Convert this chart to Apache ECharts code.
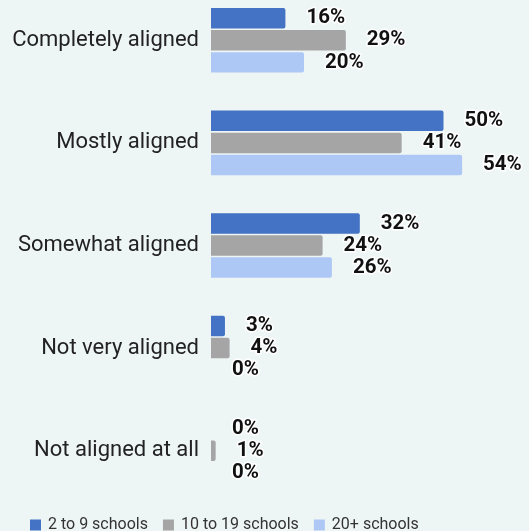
<!DOCTYPE html>
<html>
<head>
<meta charset="utf-8">
<script src="https://cdn.jsdelivr.net/npm/echarts@6/dist/echarts.min.js"></script>
<style>
  html, body { margin: 0; padding: 0; background: #eef6f5; }
  #chart { width: 529px; height: 531px; }
</style>
</head>
<body>
<div id="chart"></div>
<script>
// Alignment categories (top to bottom)
const categories = [
  'Completely aligned',
  'Mostly aligned',
  'Somewhat aligned',
  'Not very aligned',
  'Not aligned at all'
];
// Series names
const seriesNames = ['2 to 9 schools', '10 to 19 schools', '20+ schools'];
// Percent of respondents per category
const small = [16, 50, 32, 3, 0];
const medium = [29, 41, 24, 4, 1];
const large = [20, 54, 26, 0, 0];

const colors = ['#4472c4', '#a5a5a5', '#aec8f5'];
const values = [small, medium, large];

const chart = echarts.init(document.getElementById('chart'), null, { renderer: 'canvas' });

const series = seriesNames.map((name, i) => ({
  name: name,
  type: 'bar',
  data: values[i],
  barGap: '8%',
  barCategoryGap: '37%',
  itemStyle: { color: colors[i], borderRadius: [0, 2, 2, 0] },
  label: {
    show: true,
    position: 'right',
    distance: 21,
    formatter: '{c}%',
    fontFamily: 'Roboto',
    fontWeight: 'bold',
    fontSize: 20.5,
    color: '#111',
    textBorderColor: '#ffffff',
    textBorderWidth: 3
  }
}));

chart.setOption({
  backgroundColor: '#eef6f5',
  animation: false,
  grid: { left: 211, right: 39, top: -11, bottom: 29, outerBoundsMode: 'none' },
  legend: {
    data: seriesNames,
    left: 30,
    top: 517,
    padding: 0,
    itemWidth: 11,
    itemHeight: 11,
    itemGap: 15,
    icon: 'rect',
    textStyle: { fontFamily: 'Roboto', fontSize: 16, color: '#333', padding: [0, 0, 0, 2] }
  },
  xAxis: {
    type: 'value',
    min: 0,
    max: 60,
    show: false
  },
  yAxis: {
    type: 'category',
    data: categories,
    inverse: true,
    axisLine: { show: false },
    axisTick: { show: false },
    axisLabel: { fontFamily: 'Roboto', fontSize: 22, color: '#222', margin: 12 }
  },
  series: series
});
</script>
</body>
</html>
